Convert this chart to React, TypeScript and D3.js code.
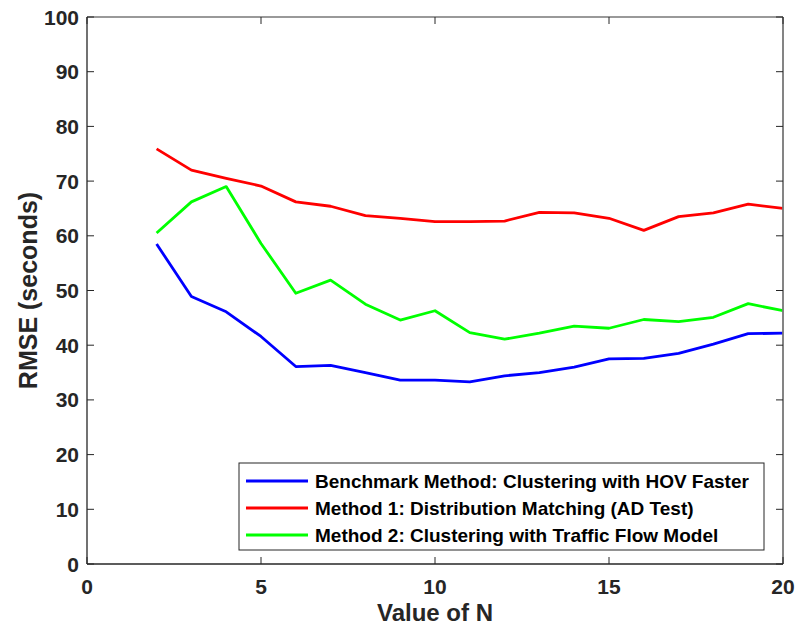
import React from "react";
import * as d3 from "d3";

const nValues = [2, 3, 4, 5, 6, 7, 8, 9, 10, 11, 12, 13, 14, 15, 16, 17, 18, 19, 20];
const benchmark = [58.5, 48.9, 46.1, 41.6, 36.1, 36.3, 35.0, 33.6, 33.6, 33.3, 34.4, 35.0, 36.0, 37.5, 37.6, 38.5, 40.2, 42.1, 42.2];
const method1 = [75.9, 72.0, 70.5, 69.1, 66.2, 65.4, 63.7, 63.2, 62.6, 62.6, 62.7, 64.3, 64.2, 63.2, 61.0, 63.5, 64.2, 65.8, 65.0];
const method2 = [60.5, 66.2, 69.0, 58.6, 49.5, 51.9, 47.5, 44.6, 46.3, 42.3, 41.1, 42.2, 43.5, 43.1, 44.7, 44.3, 45.1, 47.6, 46.3];
const xTicks = [0, 5, 10, 15, 20];
const yTicks = [0, 10, 20, 30, 40, 50, 60, 70, 80, 90, 100];

const series = [
  { name: "Benchmark Method: Clustering with HOV Faster", values: benchmark, color: "#0000ff" },
  { name: "Method 1: Distribution Matching (AD Test)", values: method1, color: "#ff0000" },
  { name: "Method 2: Clustering with Traffic Flow Model", values: method2, color: "#00ff00" },
];

const W = 797;
const H = 629;
const left = 87;
const right = 783;
const top = 17;
const bottom = 564;
const font = "'Liberation Sans', Arial, Helvetica, sans-serif";

export default function App() {
  const x = d3.scaleLinear().domain([0, 20]).range([left, right]);
  const y = d3.scaleLinear().domain([0, 100]).range([bottom, top]);
  const line = d3
    .line<number>()
    .x((_, i) => x(nValues[i]))
    .y((d) => y(d));
  const tick = 7;

  return (
    <svg
      width={W}
      height={H}
      style={{ position: "absolute", left: 0, top: 0, background: "#fff" }}
      fontFamily={font}
      fontWeight="bold"
    >
      <rect x={0} y={0} width={W} height={H} fill="#fff" />
      {series.map((s) => (
        <path key={s.name} d={line(s.values) || ""} fill="none" stroke={s.color} strokeWidth={2.8} strokeLinejoin="round" />
      ))}
      {/* axes box */}
      <line x1={left} x2={right} y1={top} y2={top} stroke="#777" strokeWidth={1.3} />
      <line x1={right} x2={right} y1={top} y2={bottom} stroke="#777" strokeWidth={1.8} />
      <line x1={left} x2={left} y1={top} y2={bottom} stroke="#262626" strokeWidth={1.3} />
      <line x1={left} x2={right} y1={bottom} y2={bottom} stroke="#262626" strokeWidth={1.3} />
      {xTicks.map((t) => (
        <g key={"x" + t}>
          <line x1={x(t)} x2={x(t)} y1={bottom} y2={bottom - tick} stroke="#262626" strokeWidth={1} />
          <line x1={x(t)} x2={x(t)} y1={top} y2={top + tick} stroke="#262626" strokeWidth={1} />
          <text x={x(t)} y={594} textAnchor="middle" fontSize={21} fill="#262626">
            {t}
          </text>
        </g>
      ))}
      {yTicks.map((t) => (
        <g key={"y" + t}>
          <line x1={left} x2={left + tick} y1={y(t)} y2={y(t)} stroke="#262626" strokeWidth={1} />
          <line x1={right} x2={right - tick} y1={y(t)} y2={y(t)} stroke="#262626" strokeWidth={1} />
          <text x={left - 8} y={y(t) + 7.5} textAnchor="end" fontSize={21} fill="#262626">
            {t}
          </text>
        </g>
      ))}
      <text x={(left + right) / 2} y={621} textAnchor="middle" fontSize={24} fill="#262626">
        Value of N
      </text>
      <text
        transform={`translate(37, ${(top + bottom) / 2}) rotate(-90)`}
        textAnchor="middle"
        fontSize={25}
        fill="#262626"
      >
        RMSE (seconds)
      </text>
      {/* legend */}
      <rect x={239} y={463} width={525} height={87} fill="#fff" stroke="#262626" strokeWidth={1} />
      {series.map((s, i) => (
        <g key={"l" + s.name}>
          <line x1={246} x2={308} y1={481 + i * 27} y2={481 + i * 27} stroke={s.color} strokeWidth={2.8} />
          <text x={315} y={481 + i * 27 + 7} fontSize={19} fill="#000">
            {s.name}
          </text>
        </g>
      ))}
    </svg>
  );
}
